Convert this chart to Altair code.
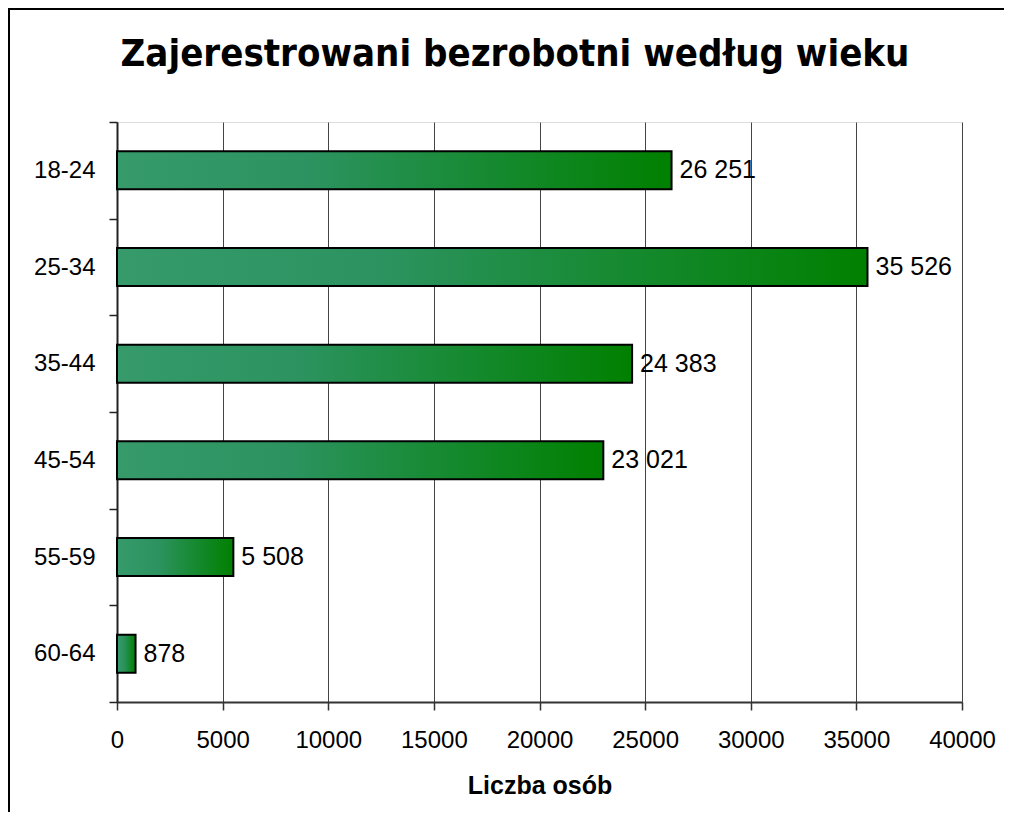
import altair as alt
import pandas as pd

TITLE = "Zajerestrowani bezrobotni według wieku"
X_TITLE = "Liczba osób"
ages = ["18-24", "25-34", "35-44", "45-54", "55-59", "60-64"]
counts = [26251, 35526, 24383, 23021, 5508, 878]
labels = [f"{v:,}".replace(",", " ") for v in counts]

df = pd.DataFrame({"age": ages, "count": counts, "label": labels})

W, H = 845, 580
PAD = {"left": 109, "top": 114, "right": 42, "bottom": 110}

grad = alt.Gradient(
    gradient="linear",
    stops=[alt.GradientStop(color="#369a6a", offset=0),
           alt.GradientStop(color="#2c9360", offset=0.35),
           alt.GradientStop(color="#008000", offset=1)],
    x1=0, x2=1, y1=0, y2=0,
)

x_enc = alt.X(
    "count:Q",
    scale=alt.Scale(domain=[0, 40000], nice=False),
    axis=alt.Axis(
        values=[0, 5000, 10000, 15000, 20000, 25000, 30000, 35000, 40000],
        format="d", title=X_TITLE,
        labelFont="Liberation Sans", labelFontSize=24, labelColor="black",
        labelPadding=18, labelFlush=False, labelOverlap=False,
        titleFont="Liberation Sans", titleFontSize=25, titleFontWeight="bold",
        titleColor="black", titlePadding=21,
        tickSize=8, tickColor="#333", tickWidth=1.5,
        domainColor="#333", domainWidth=2,
        grid=True, gridColor="#444", gridWidth=1,
    ),
)
y_enc = alt.Y(
    "age:N", sort=ages,
    scale=alt.Scale(paddingInner=0, paddingOuter=0),
    axis=alt.Axis(
        title=None, tickBand="extent",
        labelFont="Liberation Sans", labelFontSize=24, labelColor="black",
        labelPadding=14,
        tickSize=8, tickColor="#222", tickWidth=1.5,
        domainColor="#222", domainWidth=2, grid=False,
    ),
)

bars = alt.Chart(df).mark_bar(size=38, color=grad, stroke="black", strokeWidth=2).encode(
    x=x_enc, y=y_enc
)
texts = alt.Chart(df).mark_text(
    align="left", baseline="middle", dx=8, font="Liberation Sans", fontSize=25, color="black"
).encode(x="count:Q", y=alt.Y("age:N", sort=ages), text="label:N")

frame = alt.Chart(pd.DataFrame({"k": [0]})).mark_rect(
    fill="transparent", stroke="black", strokeWidth=2
).encode(
    x=alt.value(-108), x2=alt.value(1400), y=alt.value(-113), y2=alt.value(1200)
)

title = alt.Chart(pd.DataFrame({"t": [TITLE]})).mark_text(
    font="DejaVu Sans Condensed", fontWeight="bold", fontSize=38, align="center",
    baseline="alphabetic", color="black"
).encode(x=alt.value(398), y=alt.value(-56), text="t:N")

chart = alt.layer(frame, bars, texts, title).properties(
    width=W, height=H,
    autosize=alt.AutoSizeParams(type="none"),
    padding=PAD,
).configure_view(stroke="#999", strokeWidth=2).configure(background="white")

chart.save("out.html", embed_options={"renderer": "svg", "actions": False})
